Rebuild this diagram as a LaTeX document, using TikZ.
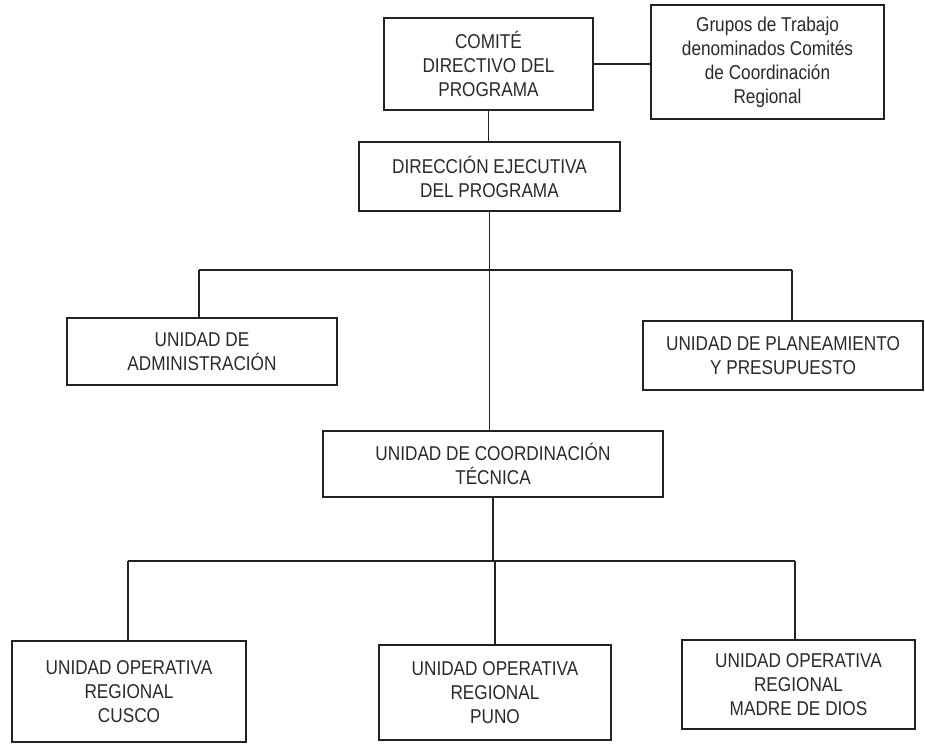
\documentclass[tikz,border=0pt]{standalone}
\usepackage{fontspec}
\setmainfont{Liberation Sans}[FakeStretch=0.86]
\definecolor{inkline}{HTML}{222222}
\definecolor{inktext}{HTML}{2A2A2A}
\begin{document}
\begin{tikzpicture}[x=1pt,y=-1pt,
  orgbox/.style={draw=inkline, line width=1.4pt, rectangle, inner sep=0pt, align=center,
    text=inktext, font=\fontsize{20}{24}\selectfont},
  link/.style={draw=inkline, line width=1.5pt}]
\useasboundingbox[fill=white] (0,0) rectangle (925,751);

\node[orgbox, minimum width=209pt, minimum height=92pt] (comite) at (488.5,64) {COMITÉ\\DIRECTIVO DEL\\PROGRAMA};
\node[orgbox, minimum width=233pt, minimum height=114pt] (grupos) at (767.5,62) {Grupos de Trabajo\\denominados Comités\\de Coordinación\\Regional};
\node[orgbox, minimum width=261pt, minimum height=69pt] (dir) at (489.5,176.5) {DIRECCIÓN EJECUTIVA\\DEL PROGRAMA};
\node[orgbox, minimum width=270pt, minimum height=67pt] (admin) at (202,351.5) {UNIDAD DE\\ADMINISTRACIÓN};
\node[orgbox, minimum width=280pt, minimum height=69pt] (plan) at (783,355.5) {UNIDAD DE PLANEAMIENTO\\Y PRESUPUESTO};
\node[orgbox, minimum width=340pt, minimum height=66pt] (coord) at (493,464) {UNIDAD DE COORDINACIÓN\\TÉCNICA};
\node[orgbox, minimum width=234pt, minimum height=101pt] (cusco) at (129,691.5) {UNIDAD OPERATIVA\\REGIONAL\\CUSCO};
\node[orgbox, minimum width=232pt, minimum height=95pt] (puno) at (495,692.5) {UNIDAD OPERATIVA\\REGIONAL\\PUNO};
\node[orgbox, minimum width=233pt, minimum height=89pt] (madre) at (798.5,684.5) {UNIDAD OPERATIVA\\REGIONAL\\MADRE DE DIOS};

\coordinate (busA) at (199,270);
\coordinate (busB) at (792,270);
\coordinate (busC) at (128,561);
\coordinate (busD) at (795,561);

\draw[link] (comite.east) -- (comite.east -| grupos.west);
\draw[link] (comite.south) -- (comite.south |- dir.north);
\draw[link] (dir.south) -- (dir.south |- coord.north);
\draw[link] (busA) -- (busB);
\draw[link] (busA) -- (busA |- admin.north);
\draw[link] (busB) -- (busB |- plan.north);
\draw[link] (coord.south) -- (coord.south |- busC);
\draw[link] (busC) -- (busD);
\draw[link] (busC) -- (busC |- cusco.north);
\draw[link] (puno.north) -- (puno.north |- busC);
\draw[link] (busD) -- (busD |- madre.north);
\end{tikzpicture}
\end{document}
